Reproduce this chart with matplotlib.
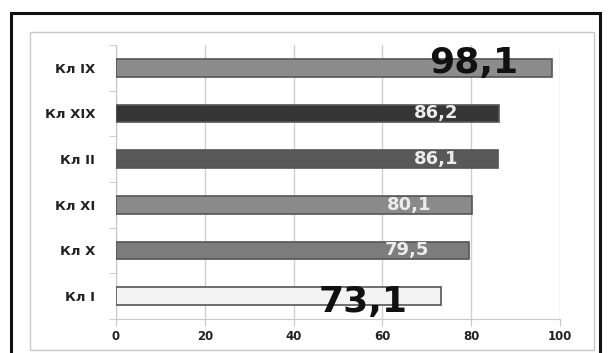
import matplotlib.pyplot as plt
from matplotlib.patches import Rectangle

# data
labels = ["Кл I", "Кл X", "Кл XI", "Кл II", "Кл XIX", "Кл IX"]
values = [73.1, 79.5, 80.1, 86.1, 86.2, 98.1]
value_text = ["73,1", "79,5", "80,1", "86,1", "86,2", "98,1"]
fills = ["#f3f3f3", "#7c7c7c", "#8a8a8a", "#595959", "#363636", "#8c8c8c"]
big = [True, False, False, False, False, True]

fig = plt.figure(figsize=(6.1, 3.53), dpi=100)

# outer black frame and inner grey chart frame
fig.patches.append(Rectangle((11 / 610, -0.05), 589 / 610, 1 - 13 / 353 + 0.05,
                             transform=fig.transFigure, fill=False,
                             edgecolor="#111111", linewidth=2.2))
fig.patches.append(Rectangle((30 / 610, 3 / 353), 564 / 610, 1 - 35 / 353,
                             transform=fig.transFigure, fill=False,
                             edgecolor="#c8c8c8", linewidth=1.0))

ax = fig.add_axes([116 / 610, 1 - 319 / 353, 444 / 610, 274 / 353])
ys = range(len(labels))
ax.barh(ys, values, height=0.38, color=fills, edgecolor="#555555",
        linewidth=1.2, zorder=3)

for y, v, t, b in zip(ys, values, value_text, big):
    if b:
        # the top label sits a little above its bar, the bottom one below
        dy = 0.1 if y == len(labels) - 1 else -0.12
        ax.text(v - 7.5, y + dy, t, ha="right", va="center", fontsize=26,
                fontweight="bold", color="#111111", zorder=5,
                family="DejaVu Sans")
    else:
        ax.text(v - 9.0, y, t, ha="right", va="center", fontsize=13,
                fontweight="bold", color="#ececec", zorder=5,
                family="DejaVu Sans")

ax.set_xlim(0, 100)
ax.set_ylim(-0.5, 5.5)
ax.set_xticks([0, 20, 40, 60, 80, 100])
ax.set_yticks(list(ys))
ax.set_yticklabels(labels)
ax.set_yticks([i - 0.5 for i in range(len(labels) + 1)], minor=True)

for lab in ax.get_yticklabels():
    lab.set_fontweight("bold")
for lab in ax.get_xticklabels():
    lab.set_fontweight("bold")
ax.tick_params(axis="y", which="major", length=0, pad=15, labelsize=9.5,
               labelcolor="#222222")
ax.tick_params(axis="y", which="minor", length=5, color="#c8c8c8")
ax.tick_params(axis="x", length=5, color="#c8c8c8", labelsize=8.5,
               labelcolor="#222222", pad=3)

ax.grid(axis="x", color="#cfcfcf", linewidth=1.0, zorder=0)
for side in ["top", "right"]:
    ax.spines[side].set_visible(False)
for side in ["left", "bottom"]:
    ax.spines[side].set_color("#c8c8c8")

fig.savefig("out.png", dpi=100)
